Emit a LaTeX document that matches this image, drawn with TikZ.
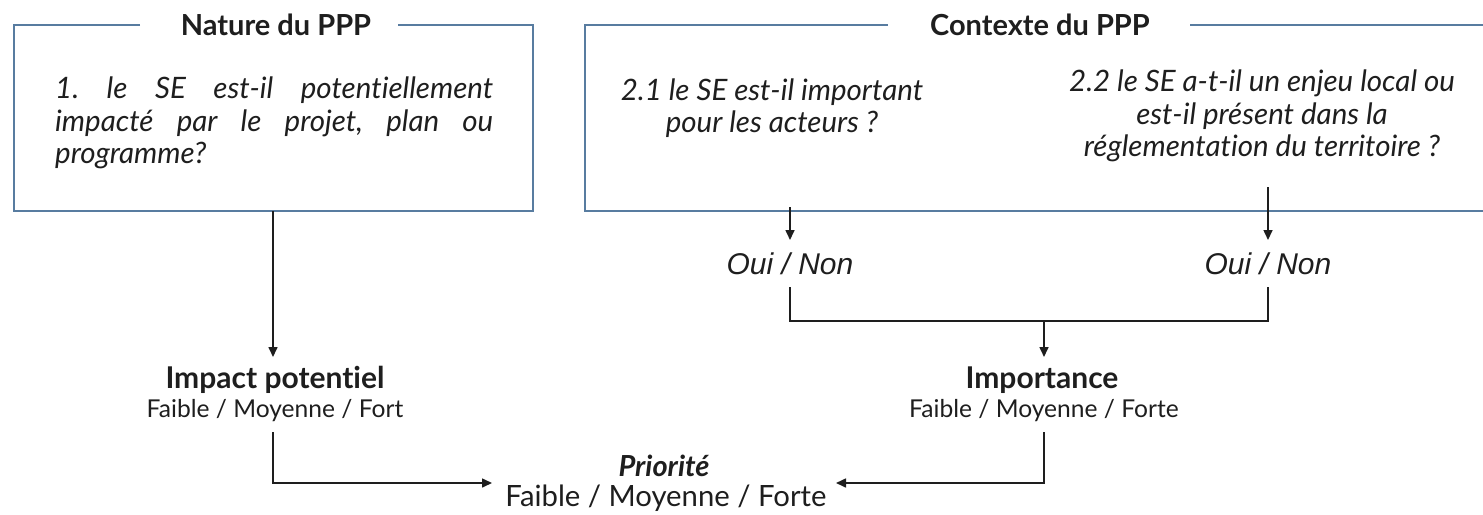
\documentclass[tikz,border=0pt]{standalone}
\usepackage{fontspec}
\setmainfont{Lato}[Ligatures={NoCommon}]
\newfontfamily\arialfont{Liberation Sans}
\usetikzlibrary{arrows.meta}
\definecolor{boxblue}{RGB}{88,124,160}
\definecolor{ink}{RGB}{30,30,30}
\tikzset{
  frame/.style={draw=boxblue, line width=1.6pt},
  conn/.style={draw=ink, line width=1.6pt},
  arr/.style={conn, -{Triangle[length=10pt,width=9pt]}},
  title/.style={font=\fontsize{29}{32}\selectfont\bfseries, text=ink, inner sep=0pt},
  question/.style={font=\fontsize{29.5}{32.5}\selectfont\itshape, text=ink, inner sep=0pt},
  ouinon/.style={font=\arialfont\fontsize{30}{32}\selectfont\itshape, text=ink, inner sep=0pt},
  head/.style={font=\fontsize{30}{32}\selectfont\bfseries, text=ink, inner sep=0pt},
  sub/.style={font=\fontsize{24.6}{28}\selectfont, text=ink, inner sep=0pt},
}
\frenchspacing
\begin{document}
\begin{tikzpicture}[x=1pt,y=-1pt]
\useasboundingbox (0,0) rectangle (1483,514);
% frames
\draw[frame] (140,25) -- (14,25) -- (14,211) -- (533,211) -- (533,25) -- (398,25);
\draw[frame] (888,25) -- (585,25) -- (585,211) -- (1490,211);
\draw[frame] (1190,25) -- (1490,25);
\node[title] (t1) at (276,25) {Nature du PPP};
\node[title] (t2) at (1040,25) {Contexte du PPP};
% questions
\node[question, text width=438pt, align=justify, anchor=north west] (q1) at (55,77) {1. le SE est-il potentiellement\linebreak impacté par le projet, plan ou\linebreak programme?};
\node[question, align=center] (q21) at (772,108) {2.1 le SE est-il important\\pour les acteurs ?};
\node[question, align=center] (q22) at (1262,116) {2.2 le SE a-t-il un enjeu local ou\\est-il présent dans la\\réglementation du territoire ?};
% Oui / Non
\node[ouinon] (on1) at (790,264) {Oui / Non};
\node[ouinon] (on2) at (1268,264) {Oui / Non};
\coordinate (s1) at (790,207);
\coordinate (s2) at (1268,187);
\draw[arr] (s1) -- (790,240);
\draw[arr] (s2) -- (1268,240);
% impact
\node[head] (imp) at (275,380) {Impact potentiel};
\node[sub] (impsub) at (275,411) {Faible / Moyenne / Fort};
\node[head] (ipt) at (1042,380) {Importance};
\node[sub] (iptsub) at (1044,411) {Faible / Moyenne / Forte};
\node[head, font=\fontsize{29}{32}\selectfont\bfseries\itshape] (pri) at (664,466) {Priorité};
\node[sub, font=\fontsize{29.3}{32}\selectfont] (prisub) at (666,498) {Faible / Moyenne / Forte};
% connectors
\draw[arr] (273,211) -- (273,357);
\coordinate (j) at (1044,321);
\draw[conn] (790,287) -- (790,321) -- (1268,321) -- (1268,287);
\draw[arr] (j) -- (1044,357);
\draw[arr] (273,432) -- (273,483) -- (492,483);
\draw[arr] (1044,432) -- (1044,483) -- (836,483);
\end{tikzpicture}
\end{document}
